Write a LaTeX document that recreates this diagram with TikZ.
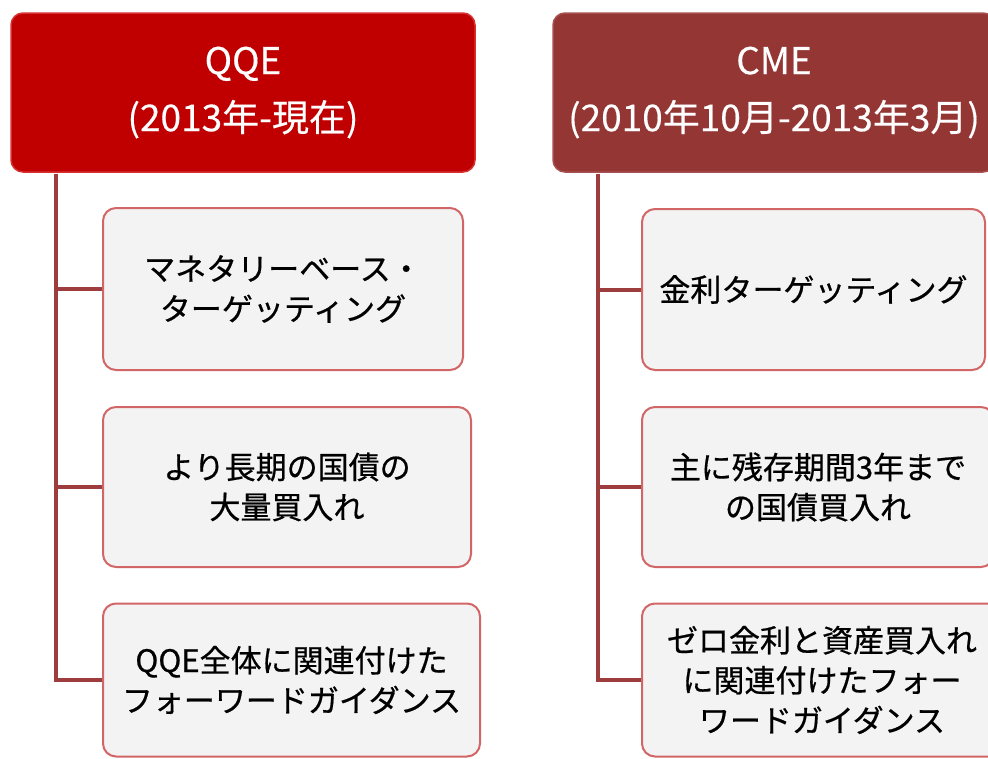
\documentclass[tikz,border=0pt]{standalone}
\usepackage{fontspec}
\setmainfont{Noto Sans CJK JP}
\newfontfamily\childfont[FakeBold=0.6]{Noto Sans CJK JP}
\newfontfamily\hdrfont[FakeBold=0.3]{Noto Sans CJK JP}
\definecolor{hdrA}{HTML}{C00000}
\definecolor{hdrB}{HTML}{943634}
\definecolor{hdrAedge}{HTML}{D83030}
\definecolor{hdrBedge}{HTML}{A85050}
\definecolor{connc}{HTML}{9E3D3D}
\definecolor{boxfill}{HTML}{F3F3F3}
\definecolor{boxedge}{HTML}{D26666}
\tikzset{
  hdr/.style={rounded corners=12pt, line width=1.5pt, text=white, align=center,
    font=\hdrfont\fontsize{37}{57}\selectfont, inner sep=0pt},
  child/.style={rounded corners=13pt, fill=boxfill, draw=boxedge, line width=2pt,
    text=black, align=center, font=\childfont\fontsize{31}{40}\selectfont, inner sep=0pt},
  conn/.style={draw=connc, line width=4pt}
}
\begin{document}
\begin{tikzpicture}[x=1pt,y=-1pt]
\useasboundingbox (0,0) rectangle (988,758);
\clip (0,0) rectangle (988,758);
\fill[white] (0,0) rectangle (988,758);
% headers
\node[hdr, fill=hdrA, draw=hdrAedge, minimum width=464pt, minimum height=159pt] (hl) at (243,92.5) {QQE\\(2013年-現在)};
\node[hdr, fill=hdrB, draw=hdrBedge, minimum width=442pt, minimum height=159pt] (hr) at (774,92.5) {CME\\(2010年10月-2013年3月)};
% left children
\node[child, minimum width=360pt, minimum height=162pt] (l1) at (283,289) {マネタリーベース・\\ターゲッティング};
\node[child, minimum width=368pt, minimum height=160pt] (l2) at (287,487) {より長期の国債の\\大量買入れ};
\node[child, minimum width=377pt, minimum height=153pt] (l3) at (291.5,680) {QQE全体に関連付けた\\フォーワードガイダンス};
% right children
\node[child, minimum width=343pt, minimum height=161pt] (r1) at (813.5,289.5) {金利ターゲッティング};
\node[child, minimum width=352pt, minimum height=160pt] (r2) at (818,487) {主に残存期間3年まで\\の国債買入れ};
\node[child, minimum width=360pt, minimum height=153pt] (r3) at (822,680) {ゼロ金利と資産買入れ\\に関連付けたフォー\\ワードガイダンス};
% connectors
\coordinate (lt) at ([xshift=46pt,yshift=-1pt]hl.south west);
\coordinate (rt) at ([xshift=46pt,yshift=-1pt]hr.south west);
\draw[conn] (lt) |- (l3.west);
\draw[conn] (lt) |- (l1.west);
\draw[conn] (lt) |- (l2.west);
\draw[conn] (rt) |- (r3.west);
\draw[conn] (rt) |- (r1.west);
\draw[conn] (rt) |- (r2.west);
\end{tikzpicture}
\end{document}
